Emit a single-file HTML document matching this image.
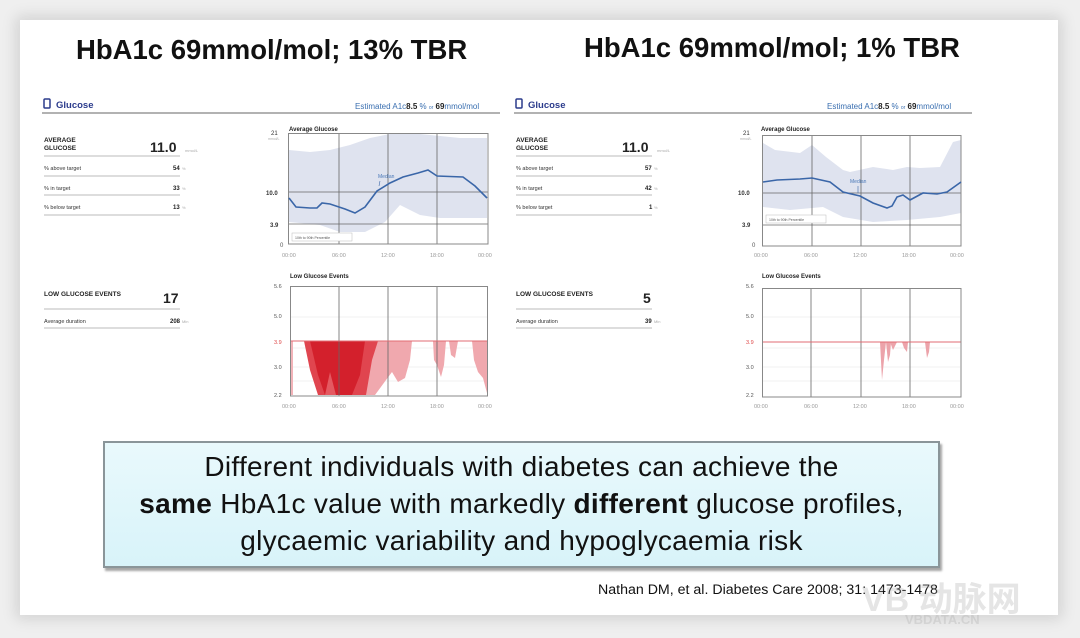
<!DOCTYPE html>
<html><head><meta charset="utf-8"><style>
html,body{margin:0;padding:0;}
body{width:1080px;height:638px;background:#efefef;position:relative;overflow:hidden;font-family:"Liberation Sans",sans-serif;}
.card{position:absolute;left:20px;top:20px;width:1038px;height:595px;background:#fff;box-shadow:0 0 14px 4px rgba(0,0,0,0.12);}
.t{position:absolute;font-family:"Liberation Sans",sans-serif;font-weight:bold;font-size:27.5px;color:#111;white-space:nowrap;}
.box{position:absolute;left:103px;top:441px;width:833px;height:118px;background:linear-gradient(#e9f9fc,#d8f3f9);border:2px solid #8a9599;box-shadow:2px 3px 2px rgba(0,0,0,0.35);text-align:center;font-size:28px;letter-spacing:0.3px;line-height:37px;color:#111;padding-top:5px;box-sizing:content-box;white-space:nowrap;}
.cite{position:absolute;left:598px;top:582px;font-size:14.2px;color:#111;}
.wm{position:absolute;color:rgba(170,170,170,0.3);font-weight:bold;}
</style></head><body>
<div class="card"></div>
<div class="t" style="left:76px;top:34px;">HbA1c 69mmol/mol; 13% TBR</div>
<div class="t" style="left:584px;top:32px;">HbA1c 69mmol/mol; 1% TBR</div>
<svg width="1080" height="430" style="position:absolute;left:0;top:0" font-family="Liberation Sans, sans-serif">
<defs>
<g id="frame">
  <text x="56" y="108" font-size="9.5" font-weight="bold" fill="#2b3b8c">Glucose</text>
  <rect x="44" y="99" width="6" height="9" rx="1" fill="none" stroke="#2b3b8c" stroke-width="1.5"/>
  <line x1="42" y1="113" x2="500" y2="113" stroke="#666" stroke-width="1"/>
  <text x="44" y="142" font-size="6.5" font-weight="bold" fill="#222">AVERAGE</text>
  <text x="44" y="150" font-size="6.5" font-weight="bold" fill="#222">GLUCOSE</text>
  <text x="150" y="152" font-size="14" font-weight="bold" fill="#222">11.0</text>
  <text x="185" y="152" font-size="4" fill="#aaa">mmol/L</text>
  <line x1="44" y1="156" x2="180" y2="156" stroke="#bbb"/>
  <text x="44" y="170" font-size="5.5" fill="#333">% above target</text>
  <line x1="44" y1="176" x2="180" y2="176" stroke="#bbb"/>
  <text x="44" y="190" font-size="5.5" fill="#333">% in target</text>
  <line x1="44" y1="195" x2="180" y2="195" stroke="#bbb"/>
  <text x="44" y="209" font-size="5.5" fill="#333">% below target</text>
  <line x1="44" y1="215" x2="180" y2="215" stroke="#bbb"/>
  <text x="44" y="296" font-size="6.5" font-weight="bold" fill="#222">LOW GLUCOSE EVENTS</text>
  <line x1="44" y1="309" x2="180" y2="309" stroke="#bbb"/>
  <text x="44" y="323" font-size="5.5" fill="#333">Average duration</text>
  <line x1="44" y1="328" x2="180" y2="328" stroke="#bbb"/>
  <text x="289" y="131" font-size="6" font-weight="bold" fill="#222">Average Glucose</text>
  <text x="271" y="135" font-size="6" fill="#333">21</text>
  <text x="268" y="140" font-size="3.5" fill="#aaa">mmol/L</text>
  <text x="266" y="195" font-size="6" font-weight="bold" fill="#333">10.0</text>
  <text x="270" y="227" font-size="6" font-weight="bold" fill="#333">3.9</text>
  <text x="280" y="247" font-size="6" fill="#555">0</text>
  <g font-size="5.5" fill="#999">
  <text x="282" y="257">00:00</text><text x="332" y="257">06:00</text><text x="381" y="257">12:00</text><text x="430" y="257">18:00</text><text x="478" y="257">00:00</text>
  </g>
  <text x="290" y="278" font-size="6" font-weight="bold" fill="#222">Low Glucose Events</text>
  <g font-size="5.5" fill="#555">
  <text x="274" y="288">5.6</text><text x="274" y="318">5.0</text><text x="274" y="369">3.0</text><text x="274" y="397">2.2</text>
  </g>
  <text x="274" y="344" font-size="5.5" fill="#d44">3.9</text>
  <g font-size="5.5" fill="#999">
  <text x="282" y="408">00:00</text><text x="332" y="408">06:00</text><text x="381" y="408">12:00</text><text x="430" y="408">18:00</text><text x="478" y="408">00:00</text>
  </g>
  <g stroke="#eee" stroke-width="0.8">
    <line x1="290" y1="317" x2="488" y2="317"/><line x1="290" y1="348" x2="488" y2="348"/><line x1="290" y1="367" x2="488" y2="367"/><line x1="290" y1="381" x2="488" y2="381"/>
  </g>
</g>
</defs>
<use href="#frame"/>
<use href="#frame" transform="translate(472,0)"/>

<text x="355" y="109" font-size="8" fill="#3a6fb0">Estimated A1c<tspan font-weight="bold" fill="#222">8.5</tspan> % <tspan font-size="5">or</tspan> <tspan font-weight="bold" fill="#222">69</tspan>mmol/mol</text>
<text x="827" y="109" font-size="8" fill="#3a6fb0">Estimated A1c<tspan font-weight="bold" fill="#222">8.5</tspan> % <tspan font-size="5">or</tspan> <tspan font-weight="bold" fill="#222">69</tspan>mmol/mol</text>
<g font-size="6" font-weight="bold" fill="#222">
<text x="173" y="170">54</text><text x="173" y="190">33</text><text x="173" y="209">13</text><text x="170" y="323" font-size="6">208</text>
<text x="645" y="170">57</text><text x="645" y="190">42</text><text x="649" y="209">1</text><text x="645" y="323">39</text>
</g>
<text x="163" y="303" font-size="14" font-weight="bold" fill="#222">17</text>
<text x="643" y="303" font-size="14" font-weight="bold" fill="#222">5</text>
<g font-size="4" fill="#aaa"><text x="182" y="170">%</text><text x="182" y="190">%</text><text x="182" y="209">%</text><text x="182" y="323">Min</text>
<text x="654" y="170">%</text><text x="654" y="190">%</text><text x="654" y="209">%</text><text x="654" y="323">Min</text></g>

<polygon fill="#dfe3ef" points="289,150 310,152 330,150 350,145 370,138 390,134 420,134 440,136 460,138 487,138 487,218 460,218 440,218 420,215 400,205 385,222 365,232 340,232 320,225 289,222"/>
<g stroke="#666" stroke-width="0.8"><line x1="339" y1="133" x2="339" y2="244"/><line x1="388" y1="133" x2="388" y2="244"/><line x1="437" y1="133" x2="437" y2="244"/>
<line x1="288" y1="192" x2="488" y2="192"/><line x1="288" y1="224" x2="488" y2="224"/></g>
<rect x="288.5" y="133.5" width="199.5" height="110.5" fill="none" stroke="#888"/>
<polyline fill="none" stroke="#3a66a8" stroke-width="1.6" points="289,198 296,207 310,208 317,208 322,203 330,204 345,209 355,213 365,207 377,191 390,183 403,177 418,173 428,170 437,176 463,177 475,186 487,198"/>
<text x="378" y="178" font-size="5" fill="#4a78b8">Median</text>
<line x1="380" y1="181" x2="379" y2="186" stroke="#3a66a8" stroke-width="0.6"/>
<rect x="292" y="233" width="60" height="8" fill="#fff" stroke="#bbb" stroke-width="0.5"/>
<text x="295" y="239" font-size="3.5" fill="#555">10th to 90th Percentile</text>

<g>
<polygon fill="#f2b3b8" points="291,341 293,341 293,395 291,395"/>
<polygon fill="#f0a8ae" points="368,341 412,341 410,360 405,378 398,382 392,372 386,380 375,395 365,395"/>
<polygon fill="#e0454f" points="304,341 378,341 372,360 366,395 318,395 310,370"/>
<polygon fill="#d3202c" points="310,341 365,341 360,375 352,395 325,395 318,375"/>
<polygon fill="#e9686f" opacity="0.8" points="325,395 330,372 336,395"/>
<polygon fill="#f0a8ae" points="433,341 446,341 444,365 441,377 437,365 434,360"/>
<polygon fill="#f0a8ae" points="449,341 458,341 455,358 451,355"/>
<polygon fill="#f0a8ae" points="472,341 487,341 487,393 483,378 478,372 474,360"/>
</g>
<g stroke="#666" stroke-width="0.8"><line x1="339" y1="286" x2="339" y2="396"/><line x1="388" y1="286" x2="388" y2="396"/><line x1="437" y1="286" x2="437" y2="396"/></g>
<line x1="290" y1="341" x2="488" y2="341" stroke="#e26b73" stroke-width="1"/>
<rect x="290.5" y="286.5" width="197" height="109.5" fill="none" stroke="#888"/>

<polygon fill="#dfe3ef" points="763,143 775,150 800,153 812,145 826,157 843,170 850,172 873,167 893,170 907,167 920,168 940,167 953,142 961,140 961,213 940,217 907,220 873,222 843,217 823,207 790,210 763,207"/>
<g stroke="#666" stroke-width="0.8"><line x1="812" y1="135" x2="812" y2="246"/><line x1="861" y1="135" x2="861" y2="246"/><line x1="910" y1="135" x2="910" y2="246"/>
<line x1="762" y1="193" x2="961" y2="193"/><line x1="762" y1="225" x2="961" y2="225"/></g>
<rect x="762.5" y="135.5" width="198.5" height="110.5" fill="none" stroke="#888"/>
<polyline fill="none" stroke="#3a66a8" stroke-width="1.6" points="763,182 777,180 800,179 812,178 830,182 843,192 860,196 873,203 887,208 892,206 897,197 903,195 910,200 923,193 937,194 947,192 961,182"/>
<text x="850" y="183" font-size="5" fill="#4a78b8">Median</text>
<line x1="858" y1="186" x2="858" y2="193" stroke="#3a66a8" stroke-width="0.6"/>
<rect x="766" y="215" width="60" height="8" fill="#fff" stroke="#bbb" stroke-width="0.5"/>
<text x="769" y="221" font-size="3.5" fill="#555">10th to 90th Percentile</text>

<g fill="#eca3aa">
<polygon points="880,342 886,342 884,360 882,380"/>
<polygon points="886,342 891,342 890,355 888,362"/>
<polygon points="890,342 897,342 893,350"/>
<polygon points="902,342 908,342 907,352 904,348"/>
<polygon points="925,342 930,342 929,352 927,358"/>
</g>
<g stroke="#666" stroke-width="0.8"><line x1="811" y1="288" x2="811" y2="397"/><line x1="861" y1="288" x2="861" y2="397"/><line x1="910" y1="288" x2="910" y2="397"/></g>
<line x1="762" y1="342" x2="961" y2="342" stroke="#e26b73" stroke-width="1"/>
<rect x="762.5" y="288.5" width="198.5" height="108.5" fill="none" stroke="#888"/>
</svg>

<div class="box">Different individuals with diabetes can achieve the<br><b>same</b> HbA1c value with markedly <b>different</b> glucose profiles,<br>glycaemic variability and hypoglycaemia risk</div>
<div class="cite">Nathan DM, et al. Diabetes Care 2008; 31: 1473-1478</div>
<div class="wm" style="font-size:34px;left:862px;top:572px;font-family:'Liberation Sans','Noto Sans CJK SC',sans-serif;">VB 动脉网</div>
<div class="wm" style="font-size:13px;left:905px;top:612px;">VBDATA.CN</div>
</body></html>
